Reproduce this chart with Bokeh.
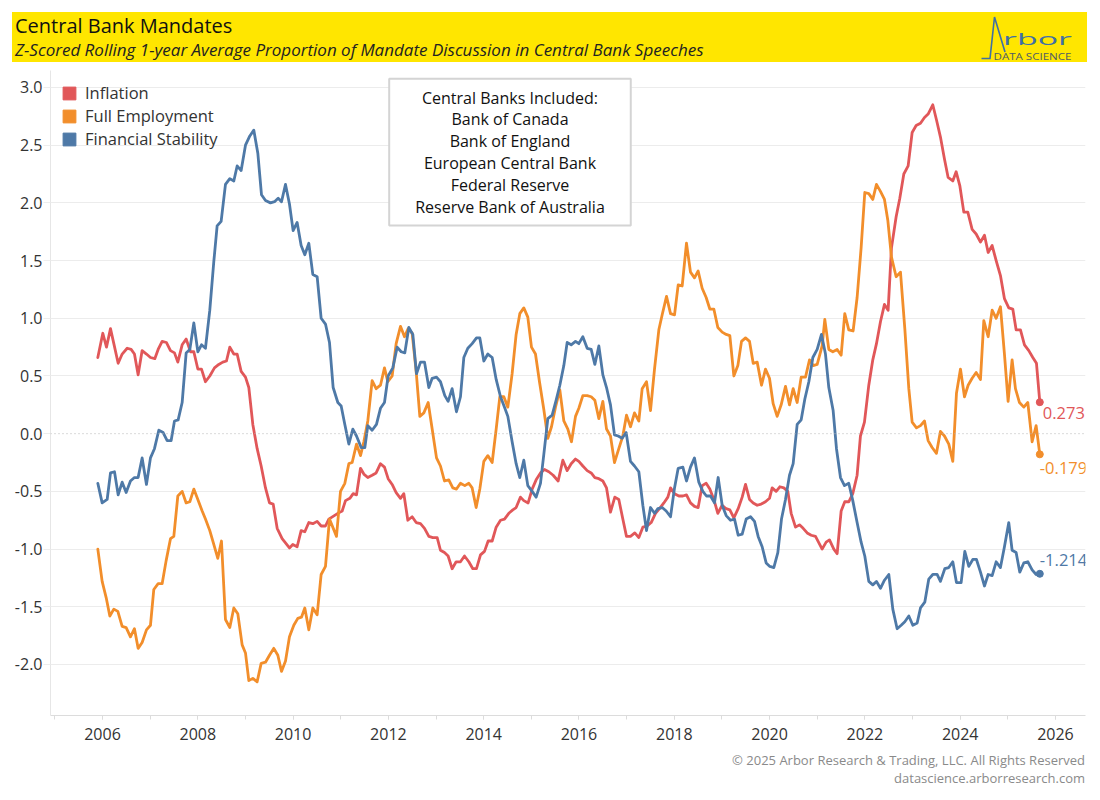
from bokeh.plotting import figure
from bokeh.models import (Div, Label, Span, FixedTicker, Legend, LegendItem,
                          Range1d, PrintfTickFormatter)
from bokeh.layouts import column
from bokeh.embed import file_html
from bokeh.resources import INLINE

FONT = "Open Sans"
NAN = float("nan")

# ---------------- data (decimal years, z-scores) ----------------
INF_X = [2005.902, 2006.007, 2006.084, 2006.168, 2006.238, 2006.329, 2006.413, 2006.518, 2006.601, 2006.671,
         2006.748, 2006.832, 2006.923, 2007.007, 2007.098, 2007.168, 2007.252, 2007.343, 2007.427, 2007.511,
         2007.581, 2007.672, 2007.756, 2007.847, 2007.917, 2008.001, 2008.078, 2008.161, 2008.252, 2008.350,
         2008.441, 2008.525, 2008.602, 2008.672, 2008.756, 2008.826, 2008.910, 2009.001, 2009.071, 2009.155,
         2009.246, 2009.330, 2009.421, 2009.505, 2009.582, 2009.666, 2009.770, 2009.924, 2009.994, 2010.085,
         2010.169, 2010.246, 2010.330, 2010.414, 2010.505, 2010.589, 2010.680, 2010.750, 2010.939, 2011.030,
         2011.100, 2011.191, 2011.261, 2011.331, 2011.415, 2011.485, 2011.568, 2011.659, 2011.743, 2011.834,
         2011.918, 2011.995, 2012.079, 2012.163, 2012.254, 2012.324, 2012.408, 2012.499, 2012.583, 2012.674,
         2012.758, 2012.849, 2012.933, 2013.024, 2013.093, 2013.177, 2013.254, 2013.338, 2013.422, 2013.513,
         2013.597, 2013.688, 2013.772, 2013.849, 2013.933, 2014.017, 2014.094, 2014.178, 2014.262, 2014.353,
         2014.437, 2014.527, 2014.611, 2014.681, 2014.772, 2014.842, 2014.933, 2015.017, 2015.101, 2015.192,
         2015.276, 2015.367, 2015.458, 2015.563, 2015.661, 2015.752, 2015.836, 2015.927, 2015.997, 2016.081,
         2016.172, 2016.256, 2016.333, 2016.417, 2016.501, 2016.578, 2016.661, 2016.752, 2016.836, 2016.920,
         2016.997, 2017.081, 2017.172, 2017.256, 2017.340, 2017.431, 2017.515, 2017.606, 2017.690, 2017.781,
         2017.865, 2017.921, 2018.005, 2018.096, 2018.180, 2018.256, 2018.340, 2018.424, 2018.501, 2018.585,
         2018.669, 2018.746, 2018.830, 2018.914, 2019.005, 2019.089, 2019.166, 2019.250, 2019.341, 2019.425,
         2019.495, 2019.579, 2019.656, 2019.740, 2019.824, 2019.914, 2019.998, 2020.054, 2020.138, 2020.215,
         2020.299, 2020.383, 2020.453, 2020.544, 2020.628, 2020.705, 2020.789, 2020.873, 2020.964, 2021.103,
         2021.187, 2021.257, 2021.348, 2021.418, 2021.502, 2021.578, 2021.662, 2021.746, 2021.837, 2021.907,
         2021.991, 2022.082, 2022.166, 2022.243, 2022.327, 2022.411, 2022.488, 2022.558, 2022.656, 2022.733,
         2022.817, 2022.908, 2022.992, 2023.076, 2023.167, 2023.251, 2023.327, 2023.425, 2023.502, 2023.586,
         2023.670, 2023.747, 2023.845, 2023.915, 2023.992, 2024.076, 2024.160, 2024.251, 2024.335, 2024.426,
         2024.510, 2024.587, 2024.671, 2024.755, 2024.845, 2024.929, 2025.020, 2025.104, 2025.174, 2025.265,
         2025.349, 2025.440, 2025.524, 2025.601, 2025.671]
INF_Y = [0.66, 0.87, 0.75, 0.91, 0.78, 0.61, 0.69, 0.74, 0.73, 0.69,
         0.51, 0.72, 0.69, 0.66, 0.65, 0.73, 0.80, 0.79, 0.72, 0.70,
         0.62, 0.77, 0.82, 0.71, 0.71, 0.56, 0.56, 0.45, 0.50, 0.57,
         0.60, 0.62, 0.63, 0.75, 0.69, 0.69, 0.54, 0.49, 0.40, 0.08,
         -0.13, -0.28, -0.47, -0.60, -0.61, -0.82, -0.91, -0.99, -0.96, -0.98,
         -0.84, -0.85, -0.77, -0.78, -0.76, -0.80, -0.80, -0.74, -0.69, -0.67,
         -0.58, -0.56, -0.52, -0.53, -0.30, -0.35, -0.38, -0.36, -0.34, -0.26,
         -0.29, -0.39, -0.44, -0.51, -0.56, -0.52, -0.75, -0.72, -0.77, -0.78,
         -0.82, -0.89, -0.90, -0.90, -1.01, -1.03, -1.06, -1.17, -1.11, -1.11,
         -1.06, -1.11, -1.17, -1.17, -1.05, -1.02, -0.93, -0.93, -0.81, -0.75,
         -0.74, -0.69, -0.66, -0.64, -0.55, -0.58, -0.60, -0.48, -0.40, -0.34,
         -0.31, -0.33, -0.36, -0.41, -0.23, -0.32, -0.26, -0.22, -0.24, -0.28,
         -0.32, -0.34, -0.38, -0.39, -0.41, -0.47, -0.68, -0.55, -0.57, -0.74,
         -0.89, -0.89, -0.86, -0.90, -0.81, -0.80, -0.77, -0.69, -0.65, -0.60,
         -0.55, -0.47, -0.52, -0.54, -0.54, -0.53, -0.60, -0.63, -0.64, -0.45,
         -0.43, -0.48, -0.57, -0.69, -0.62, -0.65, -0.66, -0.73, -0.65, -0.55,
         -0.44, -0.57, -0.60, -0.62, -0.61, -0.59, -0.56, -0.47, -0.50, -0.46,
         -0.47, -0.50, -0.69, -0.81, -0.79, -0.82, -0.86, -0.88, -0.89, -1.00,
         -0.94, -0.92, -1.00, -1.04, -0.67, -0.59, -0.59, -0.52, -0.36, -0.02,
         0.10, 0.42, 0.64, 0.78, 0.97, 1.12, 1.07, 1.61, 1.88, 2.04,
         2.25, 2.32, 2.61, 2.67, 2.69, 2.74, 2.77, 2.85, 2.72, 2.57,
         2.38, 2.22, 2.19, 2.27, 2.15, 1.92, 1.92, 1.77, 1.73, 1.66,
         1.72, 1.57, 1.63, 1.50, 1.37, 1.17, 1.09, 1.08, 0.90, 0.90,
         0.77, 0.72, 0.66, 0.61, 0.273]

EMP_X = [2005.902, 2005.993, 2006.077, 2006.154, 2006.238, 2006.322, 2006.413, 2006.497, 2006.587, 2006.671,
         2006.748, 2006.832, 2006.923, 2007.007, 2007.077, 2007.168, 2007.252, 2007.336, 2007.427, 2007.497,
         2007.581, 2007.672, 2007.756, 2007.833, 2007.917, 2008.001, 2008.092, 2008.161, 2008.252, 2008.336,
         2008.420, 2008.497, 2008.581, 2008.672, 2008.756, 2008.840, 2008.931, 2009.001, 2009.071, 2009.155,
         2009.246, 2009.330, 2009.421, 2009.505, 2009.596, 2009.680, 2009.757, 2009.841, 2009.924, 2010.015,
         2010.099, 2010.176, 2010.246, 2010.330, 2010.414, 2010.505, 2010.589, 2010.680, 2010.764, 2010.911,
         2010.995, 2011.086, 2011.170, 2011.240, 2011.331, 2011.415, 2011.485, 2011.568, 2011.659, 2011.743,
         2011.834, 2011.918, 2011.988, 2012.079, 2012.163, 2012.254, 2012.338, 2012.415, 2012.499, 2012.583,
         2012.660, 2012.744, 2012.835, 2012.919, 2013.010, 2013.093, 2013.177, 2013.268, 2013.352, 2013.429,
         2013.513, 2013.604, 2013.688, 2013.758, 2013.842, 2013.919, 2014.003, 2014.087, 2014.178, 2014.262,
         2014.339, 2014.423, 2014.507, 2014.597, 2014.681, 2014.758, 2014.842, 2014.926, 2015.003, 2015.087,
         2015.171, 2015.262, 2015.346, 2015.423, 2015.507, 2015.598, 2015.682, 2015.766, 2015.843, 2015.927,
         2015.997, 2016.081, 2016.172, 2016.256, 2016.333, 2016.417, 2016.501, 2016.578, 2016.661, 2016.745,
         2016.836, 2016.920, 2016.997, 2017.081, 2017.165, 2017.256, 2017.326, 2017.417, 2017.501, 2017.585,
         2017.676, 2017.746, 2017.837, 2017.921, 2018.005, 2018.082, 2018.166, 2018.256, 2018.340, 2018.424,
         2018.501, 2018.585, 2018.669, 2018.746, 2018.830, 2018.914, 2019.005, 2019.089, 2019.166, 2019.250,
         2019.334, 2019.411, 2019.495, 2019.579, 2019.656, 2019.740, 2019.831, 2019.914, 2019.998, 2020.075,
         2020.159, 2020.243, 2020.334, 2020.418, 2020.495, 2020.579, 2020.663, 2020.754, 2020.838, 2020.915,
         2020.999, 2021.103, 2021.159, 2021.243, 2021.327, 2021.418, 2021.502, 2021.578, 2021.662, 2021.753,
         2021.837, 2021.921, 2021.998, 2022.082, 2022.166, 2022.243, 2022.327, 2022.411, 2022.481, 2022.558,
         2022.656, 2022.747, 2022.838, 2022.922, 2022.992, 2023.083, 2023.167, 2023.251, 2023.327, 2023.411,
         2023.502, 2023.586, 2023.670, 2023.761, 2023.845, 2023.922, 2024.006, 2024.090, 2024.167, 2024.251,
         2024.335, 2024.426, 2024.496, 2024.587, 2024.671, 2024.755, 2024.845, 2024.929, 2025.006, 2025.090,
         2025.160, 2025.244, 2025.335, 2025.419, 2025.510, 2025.594, 2025.671]
EMP_Y = [-1.00, -1.28, -1.42, -1.58, -1.52, -1.54, -1.67, -1.68, -1.76, -1.69,
         -1.86, -1.81, -1.70, -1.66, -1.35, -1.30, -1.30, -1.10, -0.91, -0.89,
         -0.54, -0.50, -0.60, -0.59, -0.48, -0.57, -0.67, -0.74, -0.84, -0.96,
         -1.08, -0.93, -1.61, -1.68, -1.51, -1.56, -1.83, -1.90, -2.14, -2.12,
         -2.15, -1.99, -1.98, -1.92, -1.86, -1.92, -2.06, -1.97, -1.76, -1.66,
         -1.60, -1.59, -1.51, -1.70, -1.51, -1.57, -1.22, -1.15, -0.74, -0.89,
         -0.50, -0.43, -0.26, -0.25, -0.09, -0.19, -0.07, 0.11, 0.46, 0.39,
         0.42, 0.57, 0.45, 0.50, 0.78, 0.93, 0.84, 0.91, 0.87, 0.54,
         0.15, 0.18, 0.27, 0.04, -0.21, -0.28, -0.41, -0.40, -0.47, -0.48,
         -0.43, -0.45, -0.43, -0.47, -0.64, -0.48, -0.24, -0.19, -0.25, 0.04,
         0.32, 0.32, 0.23, 0.52, 0.86, 1.04, 1.09, 1.01, 0.75, 0.69,
         0.45, 0.21, -0.04, 0.06, 0.23, 0.38, 0.11, 0.04, -0.07, 0.15,
         0.22, 0.33, 0.33, 0.32, 0.29, 0.13, 0.28, 0.04, -0.02, -0.25,
         -0.13, -0.02, 0.16, 0.06, 0.18, 0.11, 0.39, 0.45, 0.20, 0.56,
         0.90, 1.03, 1.19, 1.04, 1.03, 1.29, 1.28, 1.65, 1.40, 1.35,
         1.41, 1.26, 1.18, 1.08, 1.08, 0.92, 0.88, 0.86, 0.85, 0.50,
         0.59, 0.80, 0.83, 0.80, 0.61, 0.62, 0.42, 0.56, 0.48, 0.26,
         0.15, 0.25, 0.41, 0.25, 0.39, 0.27, 0.49, 0.49, 0.64, 0.59,
         0.60, 0.76, 0.99, 0.73, 0.71, 0.73, 0.68, 1.04, 0.90, 0.89,
         1.18, 1.61, 2.09, 2.08, 2.03, 2.16, 2.10, 2.03, 1.85, 1.53,
         1.36, 1.40, 0.91, 0.39, 0.10, 0.05, 0.07, 0.11, -0.06, -0.12,
         -0.17, 0.02, -0.02, -0.09, -0.24, 0.35, 0.56, 0.32, 0.42, 0.48,
         0.53, 0.47, 0.98, 0.84, 1.07, 1.00, 1.10, 0.69, 0.28, 0.64,
         0.39, 0.27, 0.23, 0.27, -0.07, 0.07, -0.179]

FIN_X = [2005.902, 2005.993, 2006.098, 2006.168, 2006.252, 2006.329, 2006.413, 2006.497, 2006.587, 2006.671,
         2006.748, 2006.832, 2006.923, 2007.007, 2007.091, 2007.182, 2007.273, 2007.357, 2007.441, 2007.511,
         2007.588, 2007.672, 2007.756, 2007.833, 2007.917, 2008.001, 2008.078, 2008.161, 2008.252, 2008.336,
         2008.406, 2008.490, 2008.581, 2008.672, 2008.756, 2008.826, 2008.910, 2009.001, 2009.092, 2009.176,
         2009.260, 2009.337, 2009.421, 2009.526, 2009.610, 2009.687, 2009.757, 2009.841, 2009.924, 2010.001,
         2010.085, 2010.169, 2010.246, 2010.330, 2010.414, 2010.505, 2010.589, 2010.680, 2010.764, 2010.841,
         2010.939, 2011.009, 2011.086, 2011.170, 2011.254, 2011.331, 2011.429, 2011.506, 2011.568, 2011.659,
         2011.750, 2011.834, 2011.918, 2011.995, 2012.093, 2012.184, 2012.268, 2012.345, 2012.429, 2012.513,
         2012.590, 2012.674, 2012.758, 2012.849, 2012.919, 2013.010, 2013.093, 2013.184, 2013.254, 2013.338,
         2013.429, 2013.513, 2013.583, 2013.667, 2013.758, 2013.849, 2013.919, 2014.003, 2014.087, 2014.178,
         2014.262, 2014.353, 2014.437, 2014.507, 2014.597, 2014.681, 2014.758, 2014.842, 2014.926, 2015.017,
         2015.101, 2015.192, 2015.262, 2015.346, 2015.437, 2015.521, 2015.598, 2015.682, 2015.752, 2015.836,
         2015.927, 2015.997, 2016.081, 2016.172, 2016.256, 2016.333, 2016.417, 2016.501, 2016.578, 2016.661,
         2016.745, 2016.822, 2016.906, 2016.990, 2017.081, 2017.165, 2017.256, 2017.340, 2017.417, 2017.501,
         2017.585, 2017.655, 2017.746, 2017.830, 2017.921, 2018.005, 2018.082, 2018.180, 2018.256, 2018.340,
         2018.424, 2018.515, 2018.599, 2018.676, 2018.760, 2018.844, 2018.921, 2019.005, 2019.089, 2019.180,
         2019.264, 2019.341, 2019.425, 2019.509, 2019.600, 2019.684, 2019.760, 2019.844, 2019.928, 2020.005,
         2020.089, 2020.173, 2020.250, 2020.334, 2020.418, 2020.495, 2020.579, 2020.663, 2020.740, 2020.824,
         2020.908, 2020.999, 2021.089, 2021.173, 2021.243, 2021.334, 2021.404, 2021.488, 2021.572, 2021.662,
         2021.746, 2021.837, 2021.921, 2021.998, 2022.082, 2022.166, 2022.243, 2022.327, 2022.411, 2022.502,
         2022.586, 2022.677, 2022.761, 2022.838, 2022.922, 2023.006, 2023.097, 2023.167, 2023.257, 2023.341,
         2023.425, 2023.516, 2023.586, 2023.677, 2023.761, 2023.845, 2023.922, 2024.020, 2024.097, 2024.181,
         2024.265, 2024.342, 2024.426, 2024.510, 2024.587, 2024.671, 2024.755, 2024.845, 2024.929, 2025.020,
         2025.090, 2025.174, 2025.251, 2025.335, 2025.419, 2025.510, 2025.594, 2025.671]
FIN_Y = [-0.43, -0.60, -0.57, -0.34, -0.33, -0.53, -0.42, -0.51, -0.41, -0.38,
         -0.38, -0.21, -0.44, -0.21, -0.13, 0.03, 0.01, -0.06, -0.06, 0.11,
         0.12, 0.27, 0.70, 0.73, 0.96, 0.71, 0.77, 0.74, 1.07, 1.49,
         1.80, 1.84, 2.16, 2.21, 2.19, 2.32, 2.28, 2.50, 2.58, 2.63,
         2.43, 2.07, 2.02, 2.00, 2.01, 2.04, 2.01, 2.16, 1.99, 1.76,
         1.83, 1.63, 1.55, 1.65, 1.38, 1.36, 1.00, 0.95, 0.79, 0.40,
         0.27, 0.24, 0.08, -0.09, 0.04, -0.02, -0.12, -0.12, 0.07, 0.03,
         0.08, 0.22, 0.27, 0.50, 0.57, 0.75, 0.71, 0.70, 0.92, 0.86,
         0.52, 0.62, 0.62, 0.40, 0.48, 0.49, 0.45, 0.33, 0.28, 0.39,
         0.19, 0.32, 0.66, 0.74, 0.78, 0.83, 0.83, 0.63, 0.69, 0.66,
         0.47, 0.32, 0.23, 0.15, -0.07, -0.26, -0.38, -0.23, -0.45, -0.50,
         -0.55, -0.43, -0.18, 0.13, 0.16, 0.29, 0.42, 0.59, 0.79, 0.77,
         0.80, 0.78, 0.84, 0.74, 0.73, 0.60, 0.76, 0.51, 0.40, 0.25,
         -0.01, -0.02, -0.04, 0.01, -0.24, -0.28, -0.33, -0.62, -0.84, -0.64,
         -0.69, -0.65, -0.64, -0.67, -0.72, -0.47, -0.30, -0.29, -0.41, -0.29,
         -0.21, -0.42, -0.50, -0.54, -0.54, -0.60, -0.38, -0.62, -0.71, -0.75,
         -0.74, -0.88, -0.87, -0.74, -0.72, -0.76, -0.89, -0.98, -1.12, -1.15,
         -1.16, -1.03, -0.74, -0.57, -0.36, -0.26, 0.08, 0.12, 0.30, 0.45,
         0.66, 0.73, 0.86, 0.69, 0.40, 0.20, -0.13, -0.38, -0.45, -0.43,
         -0.58, -0.77, -0.94, -1.06, -1.28, -1.31, -1.28, -1.34, -1.27, -1.22,
         -1.52, -1.69, -1.66, -1.63, -1.58, -1.66, -1.64, -1.51, -1.46, -1.26,
         -1.22, -1.22, -1.28, -1.17, -1.16, -1.11, -1.29, -1.29, -1.02, -1.15,
         -1.09, -1.09, -1.20, -1.32, -1.22, -1.23, -1.11, -1.16, -0.98, -0.77,
         -1.01, -1.03, -1.20, -1.12, -1.11, -1.18, -1.22, -1.214]

SERIES = ["Inflation", "Full Employment", "Financial Stability"]
COLORS = ["#e15759", "#f28e2b", "#4e79a7"]
XS = [INF_X, EMP_X, FIN_X]
YS = [INF_Y, EMP_Y, FIN_Y]

X_TICKS = list(range(2006, 2027, 2))
X_MINOR = list(range(2005, 2027))
Y_TICKS = [-2.0, -1.5, -1.0, -0.5, 0.0, 0.5, 1.0, 1.5, 2.0, 2.5, 3.0]

BANKS = ["Bank of Canada", "Bank of England", "European Central Bank",
         "Federal Reserve", "Reserve Bank of Australia"]

TITLE = "Central Bank Mandates"
SUBTITLE = "Z-Scored Rolling 1-year Average Proportion of Mandate Discussion in Central Bank Speeches"
FOOT1 = "© 2025 Arbor Research &amp; Trading, LLC. All Rights Reserved"
FOOT2 = "datascience.arborresearch.com"

# ---------------- header ----------------
header_html = f"""
<div style="position:relative;width:1075px;height:50px;margin:0;background:#ffe600;font-family:'{FONT}';">
  <div style="position:absolute;left:3px;top:3px;font-size:20px;line-height:22px;color:#111;white-space:nowrap;">{TITLE}</div>
  <div style="position:absolute;left:3px;top:28px;font-size:17px;line-height:20px;font-style:italic;color:#222;white-space:nowrap;">{SUBTITLE}</div>
  <svg style="position:absolute;left:0;top:0;" width="1075" height="50">
    <polyline points="969.5,46.5 978,46.5 982.5,5 993,40" fill="none" stroke="#3f6fa5" stroke-width="1.6"/>
    <text x="991" y="33" font-family="{FONT}" font-size="16" fill="#3f6fa5" textLength="69" lengthAdjust="spacingAndGlyphs">rbor</text>
    <text x="981.5" y="48" font-family="{FONT}" font-size="9.5" fill="#4f5b66" textLength="78" lengthAdjust="spacingAndGlyphs">DATA SCIENCE</text>
  </svg>
</div>
"""
header = Div(text=header_html, width=1093, height=64, margin=0,
             styles={"padding-left": "12px", "padding-top": "12px"})

# ---------------- main figure ----------------
p = figure(width=1093, height=681, output_backend="svg", toolbar_location=None,
           x_range=Range1d(2004.909, 2026.63), y_range=Range1d(-2.442, 3.147),
           min_border_left=50, min_border_right=8, min_border_top=6, min_border_bottom=30,
           background_fill_color="white", border_fill_color="white")
p.outline_line_color = None

p.xaxis.ticker = FixedTicker(ticks=X_TICKS, minor_ticks=X_MINOR)
p.xaxis.axis_line_color = "#dcdcdc"
p.xaxis.major_tick_line_color = "#dcdcdc"
p.xaxis.minor_tick_line_color = "#dcdcdc"
p.xaxis.major_tick_in = 0
p.xaxis.major_tick_out = 4
p.xaxis.minor_tick_in = 0
p.xaxis.minor_tick_out = 4
p.xaxis.major_label_text_font = FONT
p.xaxis.major_label_text_font_size = "16px"
p.xaxis.major_label_text_color = "#333333"
p.xaxis.major_label_standoff = 8

p.yaxis.ticker = FixedTicker(ticks=Y_TICKS)
p.yaxis.formatter = PrintfTickFormatter(format="%.1f")
p.yaxis.axis_line_color = "#e6e6e6"
p.yaxis.major_tick_line_color = "#ededed"
p.yaxis.major_tick_in = 0
p.yaxis.major_tick_out = 7
p.yaxis.minor_tick_line_color = None
p.yaxis.major_label_text_font = FONT
p.yaxis.major_label_text_font_size = "16px"
p.yaxis.major_label_text_color = "#333333"
p.yaxis.major_label_standoff = 1

p.xgrid.visible = False
p.ygrid.ticker = FixedTicker(ticks=[t for t in Y_TICKS if t != 0])
p.ygrid.grid_line_color = "#ececec"
p.ygrid.grid_line_width = 1

p.add_layout(Span(location=0, dimension="width", line_color="#b5b5b5",
                  line_dash="1 3", line_width=1))

for name, c, xs, ys in zip(SERIES, COLORS, XS, YS):
    p.line(xs, ys, line_color=c, line_width=2.8, line_join="round", line_cap="round")

for c, xs, ys in zip(COLORS, XS, YS):
    p.scatter([xs[-1]], [ys[-1]], size=7, fill_color=c, line_color=c)

offsets = [(3, -11), (0, -14), (0, 14)]
for c, xs, ys, (dx, dy) in zip(COLORS, XS, YS, offsets):
    p.add_layout(Label(x=xs[-1], y=ys[-1], text=f"{ys[-1]:.3f}", x_offset=dx, y_offset=dy,
                       text_align="left", text_baseline="middle", text_color=c,
                       text_font=FONT, text_font_size="16.5px"))

# legend with square swatches
items = []
for name, c in zip(SERIES, COLORS):
    r = p.quad(left=[NAN], right=[NAN], top=[NAN], bottom=[NAN], fill_color=c, line_color=c)
    items.append(LegendItem(label=name, renderers=[r]))
legend = Legend(items=items, location="top_left", glyph_width=16, glyph_height=16,
                label_text_font=FONT, label_text_font_size="16.5px", label_text_color="#333333",
                label_standoff=8, label_height=20, spacing=0, padding=10, margin=11,
                border_line_color=None, background_fill_alpha=0)
p.add_layout(legend)

# annotation box
p.add_layout(Label(x=2014.552, y=3.076, text="Central Banks Included:\n" + "\n".join(BANKS),
                   text_align="center", text_baseline="top", text_font=FONT,
                   text_font_size="16px", text_color="#111111", text_line_height=0.99,
                   border_line_color="#d4d4d4", border_line_width=2,
                   background_fill_color="white",
                   padding=dict(left=26, right=26, top=8, bottom=8)))

# ---------------- footer ----------------
footer_html = f"""
<div style="position:relative;width:1085px;height:45px;font-family:'{FONT}';color:#8a8a8a;font-size:13px;text-align:right;">
  <div style="position:absolute;right:0;top:6px;line-height:18px;white-space:nowrap;">{FOOT1}</div>
  <div style="position:absolute;right:0;top:24px;line-height:18px;white-space:nowrap;">{FOOT2}</div>
</div>
"""
footer = Div(text=footer_html, width=1093, height=45, margin=0)

layout = column(header, p, footer, spacing=0)
open("out.html", "w").write(file_html(layout, INLINE))
